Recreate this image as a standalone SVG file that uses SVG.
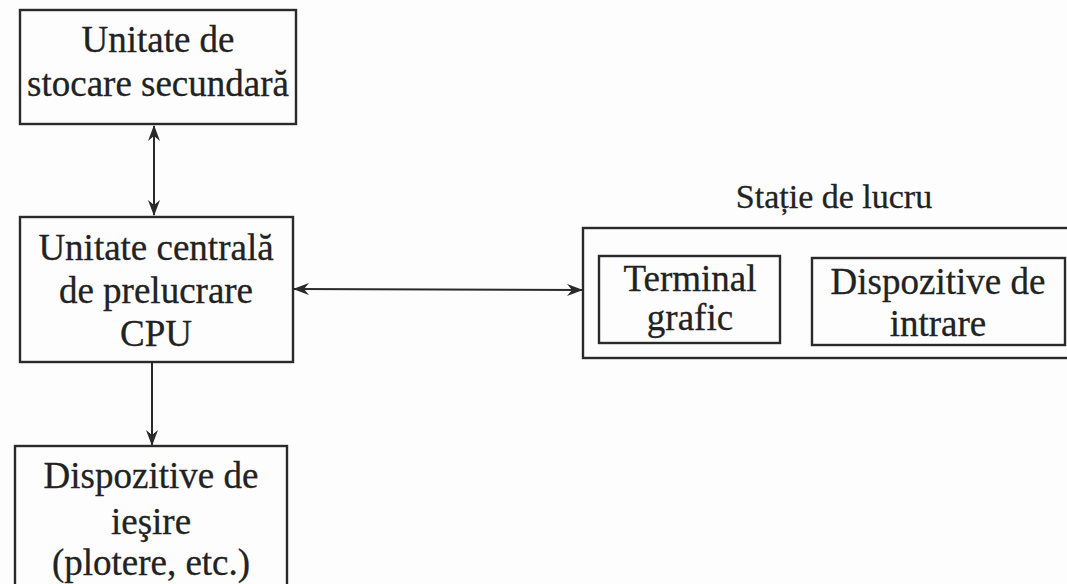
<svg xmlns="http://www.w3.org/2000/svg" width="1067" height="584" viewBox="0 0 1067 584">
<style>
.box{fill:none;stroke:#2a2a2a;stroke-width:2.4}
.t{font-family:"Liberation Serif","Times New Roman",serif;font-size:37px;fill:#222;stroke:#222;stroke-width:0.3;text-anchor:middle}
.c{stroke:#2a2a2a;stroke-width:2;fill:none}
</style>
<defs>
<marker id="ah" viewBox="0 0 16 12" refX="15" refY="6" markerWidth="16" markerHeight="12" markerUnits="userSpaceOnUse" orient="auto-start-reverse">
<path d="M0,0 L16,6 L0,12 L5,6 Z" fill="#2a2a2a"/>
</marker>
</defs>
<rect width="1067" height="584" fill="#fdfdfd"/>
<g id="connectors">
<line class="c" x1="154" y1="126" x2="154" y2="215" marker-start="url(#ah)" marker-end="url(#ah)"/>
<line class="c" x1="294" y1="289" x2="582" y2="290" marker-start="url(#ah)" marker-end="url(#ah)"/>
<line class="c" x1="152" y1="363" x2="152" y2="445" marker-end="url(#ah)"/>
</g>
<g id="stocare">
<rect class="box" x="20" y="10" width="276" height="114"/>
<text class="t" x="158" y="52">Unitate de</text>
<text class="t" x="158" y="96">stocare secundară</text>
</g>
<g id="cpu">
<rect class="box" x="20" y="217" width="273" height="145"/>
<text class="t" x="156" y="260">Unitate centrală</text>
<text class="t" x="156" y="303">de prelucrare</text>
<text class="t" x="156" y="346">CPU</text>
</g>
<g id="iesire">
<rect class="box" x="15" y="446" width="272" height="150"/>
<text class="t" x="151" y="488">Dispozitive de</text>
<text class="t" x="151" y="534">ieşire</text>
<text class="t" x="151" y="575">(plotere, etc.)</text>
</g>
<g id="statie">
<text class="t" x="834" y="208" style="font-size:34px">Stație de lucru</text>
<rect class="box" x="583" y="228" width="500" height="130"/>
</g>
<g id="terminal">
<rect class="box" x="599" y="256" width="181" height="87"/>
<text class="t" x="690" y="291">Terminal</text>
<text class="t" x="690" y="330">grafic</text>
</g>
<g id="intrare">
<rect class="box" x="812" y="258" width="253" height="87"/>
<text class="t" x="938" y="294">Dispozitive de</text>
<text class="t" x="938" y="336">intrare</text>
</g>
</svg>
